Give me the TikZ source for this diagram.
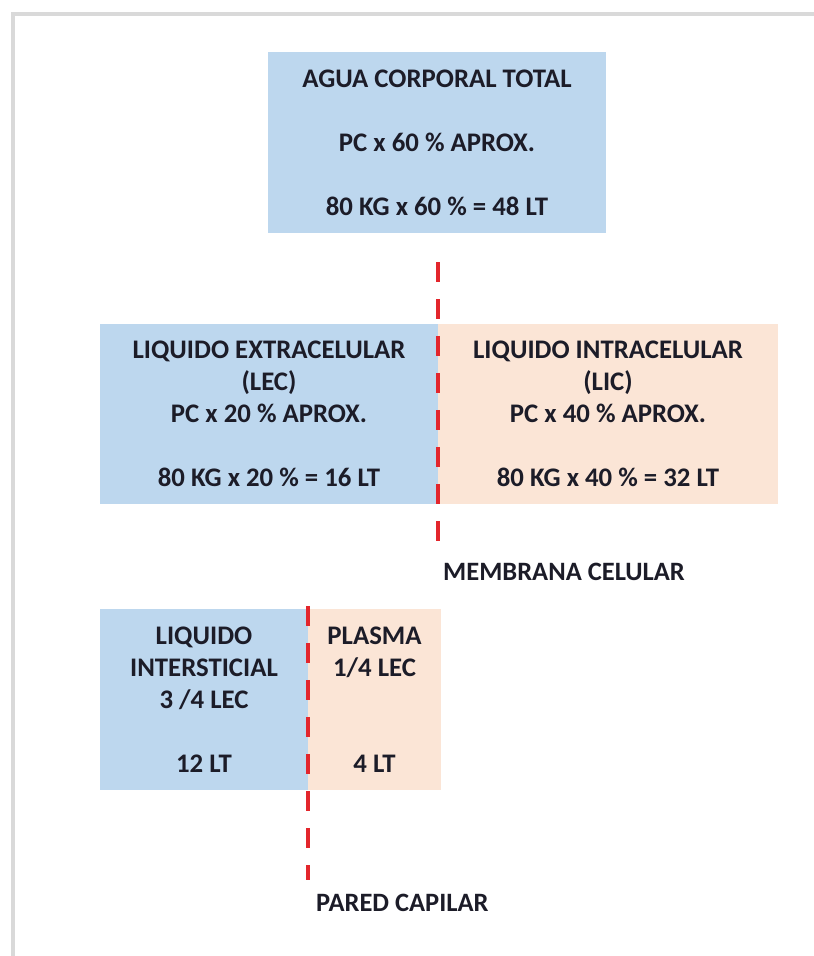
\documentclass[tikz,border=0pt]{standalone}
\usepackage{fontspec}
\setmainfont{Carlito}
\definecolor{boxblue}{HTML}{BDD7EE}
\definecolor{boxpeach}{HTML}{FBE5D6}
\definecolor{dashred}{HTML}{E3262C}
\definecolor{framegray}{HTML}{D9D9D9}
\definecolor{txt}{HTML}{1C1C28}
\tikzset{
  fluidbox/.style={rectangle, inner sep=0pt, align=center, text=txt,
    font=\fontsize{26.8}{32}\selectfont\bfseries},
  bluebox/.style={fluidbox, fill=boxblue},
  peachbox/.style={fluidbox, fill=boxpeach},
  sepline/.style={draw=dashred, line width=4pt, dash pattern=on 20pt off 17pt},
  caption/.style={inner sep=0pt, anchor=west, text=txt,
    font=\fontsize{26.5}{32}\selectfont\bfseries},
  framepart/.style={draw=framegray, line width=4pt}
}
\begin{document}
\begin{tikzpicture}[x=1pt,y=-1pt]
\useasboundingbox (0,0) rectangle (814,956);
% frame
\coordinate (fTR) at (820,14);
\coordinate (fTL) at (13,14);
\coordinate (fBL) at (13,962);
\begin{scope}
\clip (0,0) rectangle (814,956);
\draw[framepart] (fTR) -- (fTL) -- (fBL);
\end{scope}

% boxes
\node[bluebox, minimum width=338pt, minimum height=181pt] (act) at (437,142.5)
  {AGUA CORPORAL TOTAL\\ \mbox{}\\ PC x 60 \% APROX.\\ \mbox{}\\ 80 KG x 60 \% = 48 LT};
\node[bluebox, minimum width=338pt, minimum height=180pt] (lec) at (269,414)
  {LIQUIDO EXTRACELULAR\\ (LEC)\\ PC x 20 \% APROX.\\ \mbox{}\\ 80 KG x 20 \% = 16 LT};
\node[peachbox, minimum width=340pt, minimum height=180pt] (lic) at (608,414)
  {LIQUIDO INTRACELULAR\\ (LIC)\\ PC x 40 \% APROX.\\ \mbox{}\\ 80 KG x 40 \% = 32 LT};
\node[bluebox, minimum width=208pt, minimum height=181pt] (li) at (204,699.5)
  {LIQUIDO\\ INTERSTICIAL\\ 3 /4 LEC\\ \mbox{}\\ 12 LT};
\node[peachbox, minimum width=133pt, minimum height=181pt] (pl) at (374.5,699.5)
  {PLASMA\\ 1/4 LEC\\ \mbox{}\\ \mbox{}\\ 4 LT};

% separators
\coordinate (m1) at (438,262);
\coordinate (m2) at (438,545);
\draw[sepline] (m1) -- (m2);
\coordinate (c1) at (308,606);
\coordinate (c2) at (308,880);
\draw[sepline] (c1) -- (c2);

% captions
\node[caption] (memb) at (443,572) {MEMBRANA CELULAR};
\node[caption] (pared) at (316,903) {PARED CAPILAR};
\end{tikzpicture}
\end{document}
